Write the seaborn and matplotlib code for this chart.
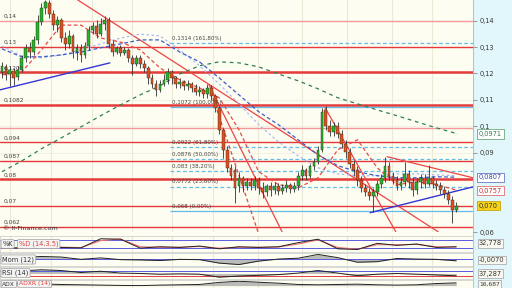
import numpy as np
import pandas as pd
import matplotlib
matplotlib.use("Agg")
import matplotlib.pyplot as plt
import seaborn as sns

W, H, DPI = 512, 288, 100

# ---------------- data ----------------
opens = [.1206,.1225,.1198,.1210,.1187,.1213,.1259,.1297,.1281,.1327,.1395,.1448,.1467,.1425,.1383,.1402,
         .1334,.1312,.1342,.1281,.1297,.1270,.1304,.1365,.1380,.1349,.1387,.1402,.1312,.1281,.1297,.1278,
         .1289,.1259,.1236,.1259,.1236,.1221,.1183,.1160,.1138,.1160,.1176,.1206,.1183,.1160,.1168,.1153,
         .1160,.1145,.1130,.1138,.1123,.1145,.1115,.1070,.0987,.0911,.0843,.0835,.0775,.0805,.0775,.0790,
         .0775,.0798,.0767,.0752,.0775,.0760,.0775,.0756,.0767,.0779,.0764,.0775,.0813,.0835,.0813,.0851,
         .0866,.0911,.1062,.1002,.0979,.1002,.0971,.0934,.0903,.0858,.0835,.0798,.0767,.0752,.0737,.0752,
         .0782,.0805,.0851,.0813,.0798,.0775,.0790,.0820,.0790,.0760,.0790,.0805,.0782,.0805,.0782,.0775,
         .0760,.0745,.0722,.0684]
closes = [.1229,.1195,.1213,.1183,.1213,.1259,.1297,.1281,.1327,.1395,.1448,.1470,.1425,.1383,.1402,.1334,
          .1312,.1342,.1281,.1297,.1270,.1304,.1365,.1380,.1349,.1387,.1402,.1312,.1281,.1297,.1278,.1289,
          .1259,.1236,.1259,.1236,.1221,.1183,.1160,.1138,.1160,.1176,.1206,.1183,.1160,.1168,.1153,.1160,
          .1145,.1130,.1138,.1123,.1145,.1115,.1070,.0987,.0911,.0843,.0813,.0767,.0805,.0775,.0790,.0775,
          .0798,.0767,.0752,.0775,.0760,.0775,.0756,.0767,.0779,.0764,.0775,.0813,.0835,.0813,.0851,.0866,
          .0911,.1055,.1002,.0979,.1002,.0971,.0934,.0903,.0858,.0835,.0798,.0767,.0752,.0737,.0752,.0782,
          .0805,.0851,.0813,.0798,.0775,.0790,.0820,.0790,.0760,.0790,.0805,.0782,.0805,.0782,.0775,.0760,
          .0745,.0722,.0684,.0700]
highs = [.1244,.1236,.1229,.1221,.1229,.1270,.1312,.1319,.1342,.1421,.1467,.1478,.1478,.1440,.1418,.1410,
         .1357,.1365,.1349,.1312,.1312,.1319,.1380,.1395,.1402,.1410,.1418,.1414,.1327,.1304,.1308,.1300,
         .1297,.1270,.1270,.1270,.1251,.1229,.1198,.1176,.1176,.1198,.1221,.1213,.1191,.1183,.1176,.1176,
         .1168,.1160,.1153,.1145,.1160,.1157,.1123,.1077,.0994,.0926,.0858,.0851,.0828,.0813,.0805,.0805,
         .0813,.0809,.0790,.0782,.0790,.0790,.0786,.0782,.0798,.0786,.0790,.0828,.0854,.0843,.0858,.0881,
         .0926,.1070,.1077,.1024,.1017,.1017,.0987,.0949,.0919,.0873,.0851,.0813,.0782,.0767,.0767,.0798,
         .0820,.0885,.0866,.0828,.0813,.0805,.0866,.0835,.0805,.0805,.0820,.0820,.0854,.0813,.0798,.0790,
         .0775,.0760,.0737,.0714]
lows = [.1183,.1176,.1153,.1157,.1176,.1206,.1244,.1259,.1270,.1312,.1383,.1425,.1410,.1365,.1357,.1319,
        .1289,.1297,.1259,.1251,.1244,.1259,.1289,.1349,.1334,.1342,.1365,.1297,.1266,.1274,.1266,.1270,
        .1244,.1195,.1229,.1221,.1206,.1160,.1145,.1115,.1130,.1153,.1160,.1160,.1145,.1145,.1138,.1138,
        .1130,.1119,.1115,.1108,.1108,.1100,.1055,.0971,.0881,.0828,.0798,.0711,.0752,.0752,.0760,.0760,
        .0760,.0745,.0730,.0737,.0737,.0745,.0741,.0745,.0752,.0748,.0752,.0760,.0798,.0798,.0805,.0835,
        .0858,.0903,.0987,.0964,.0964,.0956,.0919,.0881,.0843,.0813,.0775,.0752,.0737,.0722,.0677,.0737,
        .0767,.0790,.0798,.0782,.0760,.0760,.0775,.0767,.0737,.0745,.0767,.0767,.0775,.0767,.0760,.0745,
        .0730,.0707,.0635,.0677]

ma_idx = list(range(0, 116, 5)) + [115]
ma_green = [.0828,.0869,.0915,.0956,.0998,.1040,.1081,.1119,.1153,.1198,.1229,.1244,.1240,.1225,.1198,
            .1172,.1142,.1108,.1085,.1062,.1040,.1017,.0994,.0975,.0971]
ma_blue = [.1293,.1263,.1263,.1270,.1281,.1297,.1312,.1327,.1327,.1281,.1244,.1183,.1119,.1055,.1006,
           .0949,.0892,.0851,.0828,.0813,.0805,.0805,.0809,.0808,.0807]
ma_lightblue = [.1304,.1266,.1259,.1270,.1289,.1312,.1334,.1349,.1342,.1289,.1229,.1160,.1085,.1006,.0941,
                .0888,.0843,.0820,.0813,.0813,.0820,.0820,.0816,.0813,.0813]
ma_red = [.1195,.1206,.1289,.1383,.1383,.1334,.1319,.1289,.1221,.1176,.1145,.1108,.0987,.0828,.0779,
          .0767,.0805,.0911,.0949,.0843,.0779,.0790,.0780,.0760,.0757]

# horizontal support / resistance levels
level_vals = [0.14, 0.13, 0.1205, 0.1082, 0.0995, 0.094, 0.087, 0.08, 0.07, 0.062]
level_text = ["0,14", "0,13", "0,1205", "0,1082", "", "0,094", "0,087", "0,08", "0,07", "0,062"]
level_thick = [False, False, True, True, False, False, False, True, False, False]
level_light = [True, False, False, False, True, False, False, False, False, False]

fib_vals = [0.1314, 0.1072, 0.0922, 0.0876, 0.083, 0.0772, 0.068]
fib_text = ["0,1314 (161,80%)", "0,1072 (100,00%)", "0,0922 (61,80%)", "0,0876 (50,00%)",
            "0,083 (38,20%)", "0,0772 (23,60%)", "0,068 (0,00%)"]
fib_solid = [False, True, False, False, False, False, True]

# trend lines: (i0, v0, i1, v1)
red_lines = [(19.2, .1478, 110.4, .0601), (52.4, .1157, 70.9, .0601), (81.8, .1070, 99.7, .0601),
             (97.5, .0885, 119.3, .0805)]
red_dashed = [(52.9, .1130, 64.8, .0601)]
blue_lines = [(-0.5, .1138, 27.3, .1240), (93.2, .0673, 119.3, .0771)]

price_ticks = [0.14, 0.13, 0.12, 0.11, 0.10, 0.09, 0.06]
price_tick_labels = ["0,14", "0,13", "0,12", "0,11", "0,1", "0,09", "0,06"]

grid_x = [2.0, 12.4, 22.8, 32.9, 43.0, 53.4, 64.8, 75.9, 87.3, 98.7, 108.9]

osc_idx = list(range(0, 116, 5))
stoch_k = [20, 22, 30, 25, 22, 88, 85, 20, 30, 25, 35, 15, 30, 25, 30, 60, 85, 15, 10, 55, 40, 50, 25, 30]
stoch_d = [22, 22, 26, 27, 24, 75, 86, 30, 26, 27, 32, 20, 26, 27, 28, 50, 80, 25, 12, 45, 45, 47, 30, 28]
mom = [.002, .004, .008, .006, -.002, .003, -.003, -.004, -.006, -.002, -.003, -.015, -.020, -.008, -.001,
       .002, .015, .004, -.012, -.010, .001, -.001, -.002, -.007]
rsi = [62, 64, 70, 66, 55, 62, 52, 50, 46, 48, 46, 30, 36, 40, 44, 52, 66, 52, 38, 46, 50, 46, 42, 37]
adx = [30, 28, 25, 22, 20, 18, 16, 15, 18, 20, 22, 35, 42, 36, 30, 22, 20, 22, 24, 20, 18, 20, 28, 32]

# ---------------- drawing ----------------
sns.set_theme(style="white")
plt.rcParams['font.family'] = ['DejaVu Sans']

CREAM = '#fdfdf1'
fig = plt.figure(figsize=(W / DPI, H / DPI), dpi=DPI)
fig.patch.set_facecolor(CREAM)


def ax_px(x0, y0, x1, y1, **kw):
    return fig.add_axes([x0 / W, 1 - y1 / H, (x1 - x0) / W, (y1 - y0) / H], **kw)


strip = ax_px(473, 0, 512, 288)
strip.set_facecolor('#e2f7fb')
strip.set_xticks([]); strip.set_yticks([])
for s in strip.spines.values():
    s.set_visible(False)
strip.axvline(0, color='#a8c8d0', lw=0.8)

XL = (-0.5, 119.25)
ax = ax_px(0, 0, 473, 232)
ax.set_facecolor(CREAM)
ax.set_xlim(*XL)
ax.set_ylim(0.0600, 0.1478)
for s in ax.spines.values():
    s.set_visible(False)
ax.set_xticks([])
ax.yaxis.tick_right()
ax.set_yticks(price_ticks)
ax.set_yticklabels(price_tick_labels)
ax.tick_params(axis='y', length=3, width=0.6, color='#888888', labelsize=4.8, labelcolor='#333333', pad=1.5)
for gx in grid_x:
    ax.axvline(gx, color='#ece9d6', lw=0.8, zorder=0)
for t in price_ticks:
    ax.axhline(t, color='#f0eedf', lw=0.6, zorder=0)

# levels
for v, t, thick, light in zip(level_vals, level_text, level_thick, level_light):
    ax.axhline(v, color='#f49a9a' if light else '#e53a3a', lw=1.8 if thick else 1.0, zorder=1)
    if t:
        ax.text(0.3, v + 0.0007, t, fontsize=4.2, color='#444444', va='bottom', ha='left', zorder=6)

# fibonacci
for v, t, solid in zip(fib_vals, fib_text, fib_solid):
    ax.hlines(v, 42.5, XL[1], color='#62bde8', lw=0.9, linestyles='-' if solid else (0, (3, 2)), zorder=1)
    ax.text(43.0, v + 0.0008, t, fontsize=4.0, color='#444444', va='bottom', ha='left', zorder=6)

# trend lines
for (a, b, c, d) in red_lines:
    sns.lineplot(x=[a, c], y=[b, d], ax=ax, color='#ee4444', lw=0.9, zorder=2)
for (a, b, c, d) in red_dashed:
    sns.lineplot(x=[a, c], y=[b, d], ax=ax, color='#ee4444', lw=0.9, linestyle=(0, (3, 2)), zorder=2)
for (a, b, c, d) in blue_lines:
    sns.lineplot(x=[a, c], y=[b, d], ax=ax, color='#3535d8', lw=1.0, zorder=2)

# moving averages
sns.lineplot(x=ma_idx, y=ma_green, ax=ax, color='#2f7f52', lw=0.9, linestyle=(0, (3, 3)), zorder=2)
sns.lineplot(x=ma_idx, y=ma_lightblue, ax=ax, color='#aab8f2', lw=0.9, linestyle=(0, (2, 2)), zorder=2)
sns.lineplot(x=ma_idx, y=ma_blue, ax=ax, color='#3d5cc8', lw=0.9, linestyle=(0, (3, 2)), zorder=2)
sns.lineplot(x=ma_idx, y=ma_red, ax=ax, color='#e84a4a', lw=0.9, linestyle=(0, (3, 2)), zorder=2)

# candles
idx = np.arange(len(closes))
o = np.array(opens); c = np.array(closes)
ax.vlines(idx, lows, highs, color='#303030', lw=0.6, zorder=4)
cols = np.where(c >= o, '#27b427', '#e0501e')
ax.bar(idx, c - o, bottom=o, width=0.7, color=cols, edgecolor='#2a2a2a', linewidth=0.3, zorder=5)

ax.text(0.3, 0.0602, "\u00a9 II-Finance.com", fontsize=4.6, color='#333333', va='bottom', zorder=6)
ax.set_xlabel(''); ax.set_ylabel('')

# right value boxes
tr = ax.get_yaxis_transform()
boxes = [(0.0971, "0,0971", '#3a7a4a', '#ffffff', '#6aa87a'),
         (0.0807, "0,0807", '#3848a8', '#ffffff', '#6878c8'),
         (0.0757, "0,0757", '#c83030', '#ffffff', '#e07070'),
         (0.0700, "0,070", '#333333', '#f6d21c', '#c8a810')]
for v, t, tc, fc, ec in boxes:
    ax.text(1.0 + 6 / 473, v, t, transform=tr, fontsize=4.8, color=tc, va='center', ha='left', zorder=7,
            bbox=dict(boxstyle='square,pad=0.25', fc=fc, ec=ec, lw=0.6), clip_on=False)


# sub panels
def sub_panel(y0, y1, ylim):
    a = ax_px(0, y0, 473, y1)
    a.set_facecolor(CREAM)
    a.set_xlim(*XL)
    a.set_ylim(*ylim)
    a.set_xticks([]); a.set_yticks([])
    for s in a.spines.values():
        s.set_color('#c8c8c8'); s.set_linewidth(0.5)
    for gx in grid_x:
        a.axvline(gx, color='#ece9d6', lw=0.8, zorder=0)
    return a


def label_box(a, x, text, color, y=0.5, fs=4.8):
    a.text(x, y, text, transform=a.transAxes, fontsize=fs, color=color, va='center', ha='left', zorder=8,
           bbox=dict(boxstyle='round,pad=0.2', fc='#f3f3f3', ec='#a0a0a0', lw=0.5))


def right_box(a, yfrac, text, fs=4.8):
    a.text(1.0 + 6 / 473, yfrac, text, transform=a.transAxes, fontsize=fs, color='#333333', va='center',
           ha='left', zorder=8, clip_on=False, bbox=dict(boxstyle='square,pad=0.2', fc='#f8f8f0', ec='#a0a0a0', lw=0.5))


a1 = sub_panel(236, 252, (-8, 108))
a1.axhline(80, color='#5a5ae0', lw=0.7)
a1.axhline(20, color='#5a5ae0', lw=0.7)
sns.lineplot(x=osc_idx, y=stoch_d, ax=a1, color='#f07070', lw=0.8)
sns.lineplot(x=osc_idx, y=stoch_k, ax=a1, color='#222222', lw=0.7)
label_box(a1, 0.005, "%K", '#333333')
label_box(a1, 0.04, "%D (14.3.5)", '#e04040')
right_box(a1, 0.55, "32,778")

a2 = sub_panel(253, 266, (-0.025, 0.02))
a2.axhline(0, color='#5a5ae0', lw=0.7)
a2.fill_between(osc_idx, mom, 0, color='#a0a0a0', alpha=0.7, lw=0)
sns.lineplot(x=osc_idx, y=mom, ax=a2, color='#222222', lw=0.7)
label_box(a2, 0.005, "Mom (12)", '#333333')
right_box(a2, 0.45, "-0,0070")

a3 = sub_panel(267, 279, (20, 85))
a3.axhline(65, color='#5a5ae0', lw=0.7)
a3.axhline(35, color='#e04040', lw=0.7)
a3.fill_between(osc_idx, rsi, 50, color='#a0a0a0', alpha=0.7, lw=0)
sns.lineplot(x=osc_idx, y=rsi, ax=a3, color='#222222', lw=0.7)
label_box(a3, 0.005, "RSI (14)", '#333333')
right_box(a3, 0.45, "37,287")

a4 = sub_panel(280, 288, (0, 50))
a4.fill_between(osc_idx, adx, 15, color='#a0a0a0', alpha=0.7, lw=0)
sns.lineplot(x=osc_idx, y=adx, ax=a4, color='#222222', lw=0.7)
label_box(a4, 0.005, "ADX", '#333333', y=0.5, fs=4.3)
label_box(a4, 0.04, "ADXR (14)", '#e04040', y=0.5, fs=4.3)
right_box(a4, 0.5, "16,687", fs=4.3)

for a in (ax, a1, a2, a3, a4):
    a.set_xlabel(''); a.set_ylabel('')

fig.savefig('out.png', dpi=DPI, facecolor=fig.get_facecolor())
